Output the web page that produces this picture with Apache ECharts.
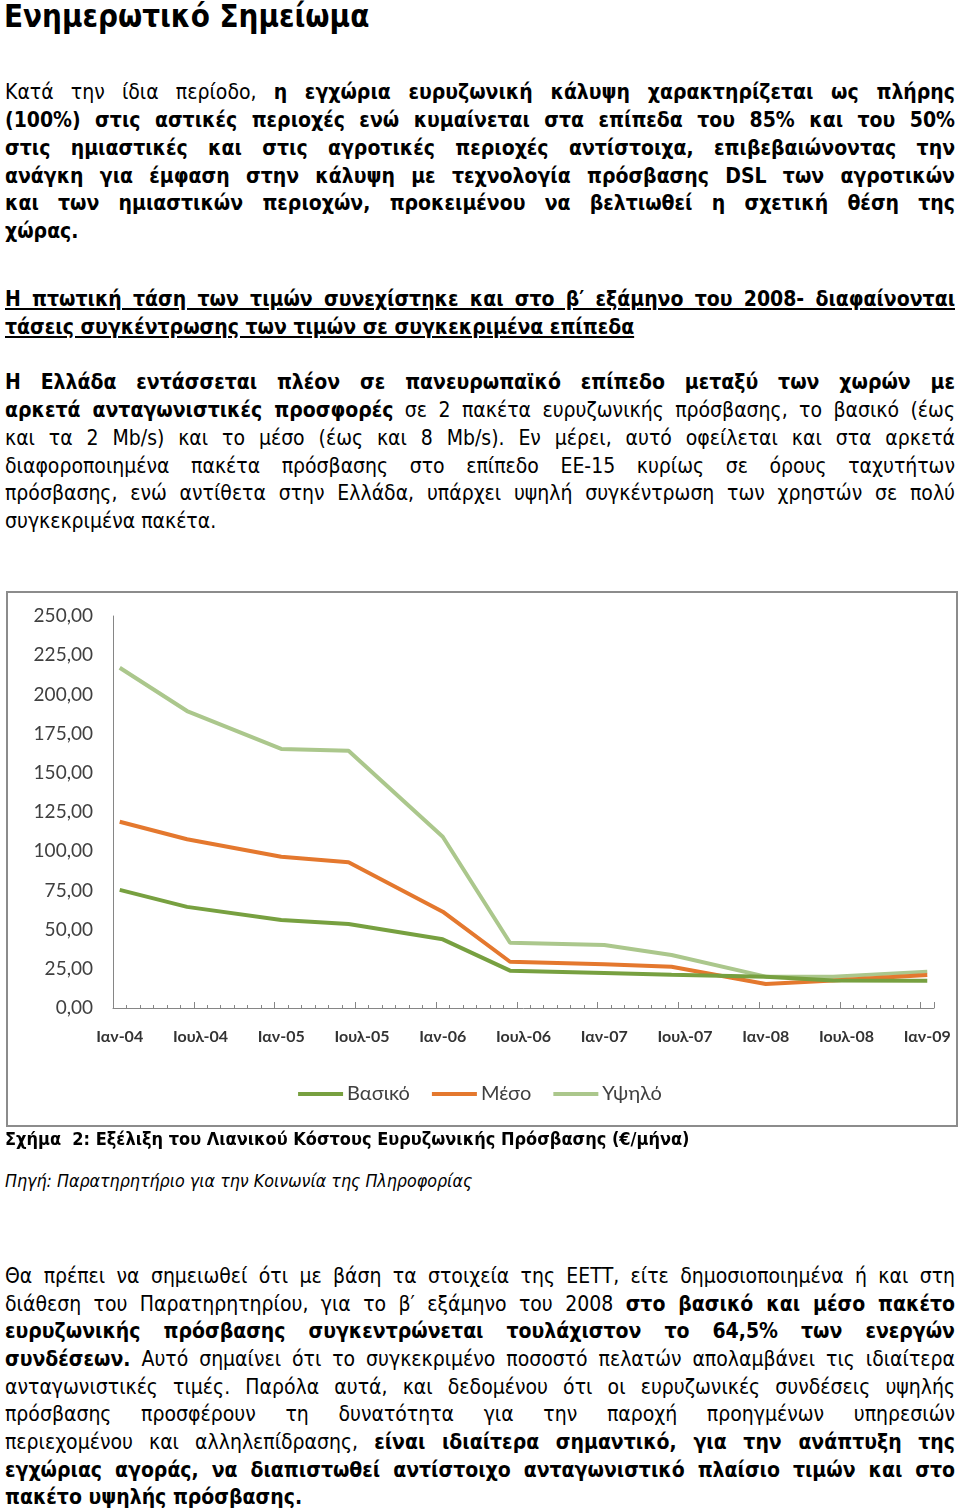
<!DOCTYPE html>
<html>
<head>
<meta charset="utf-8">
<script src="https://cdn.jsdelivr.net/npm/echarts@6/dist/echarts.min.js"></script>
<style>
  html, body { margin:0; padding:0; background:#fff; }
  body { width:960px; height:1510px; position:relative; overflow:hidden;
         font-family:"Liberation Sans Narrow","DejaVu Sans Condensed","Liberation Sans",sans-serif; color:#000; }
  .ln { position:absolute; left:5px; width:950px; height:28px; line-height:28px; font-size:21px;
        white-space:nowrap; text-align:justify; text-align-last:justify; }
  .ln.l { text-align:left; text-align-last:left; }
  b { font-weight:bold; }
  .u { text-decoration:underline; }
  #title { position:absolute; left:4px; top:-3px; font-size:31px; font-weight:bold; line-height:38px; }
  #frame { position:absolute; left:6px; top:591px; width:948px; height:532px; border:2px solid #8c8c8c; }
  #chart { position:absolute; left:0; top:580px; width:960px; height:560px; }
</style>
</head>
<body>
<div id="title">Ενημερωτικό Σημείωμα</div>

<div class="ln" style="top:78px">Κατά την ίδια περίοδο, <b>η εγχώρια ευρυζωνική κάλυψη χαρακτηρίζεται ως πλήρης</b></div>
<div class="ln" style="top:106px"><b>(100%) στις αστικές περιοχές ενώ κυμαίνεται στα επίπεδα του 85% και του 50%</b></div>
<div class="ln" style="top:134px"><b>στις ημιαστικές και στις αγροτικές περιοχές αντίστοιχα, επιβεβαιώνοντας την</b></div>
<div class="ln" style="top:162px"><b>ανάγκη για έμφαση στην κάλυψη με τεχνολογία πρόσβασης DSL των αγροτικών</b></div>
<div class="ln" style="top:189px"><b>και των ημιαστικών περιοχών, προκειμένου να βελτιωθεί η σχετική θέση της</b></div>
<div class="ln l" style="top:217px"><b>χώρας.</b></div>

<div class="ln" style="top:285px"><b class="u">Η πτωτική τάση των τιμών συνεχίστηκε και στο β′ εξάμηνο του 2008- διαφαίνονται</b></div>
<div class="ln l" style="top:313px"><b class="u">τάσεις συγκέντρωσης των τιμών σε συγκεκριμένα επίπεδα</b></div>

<div class="ln" style="top:368px"><b>Η Ελλάδα εντάσσεται πλέον σε πανευρωπαϊκό επίπεδο μεταξύ των χωρών με</b></div>
<div class="ln" style="top:396px"><b>αρκετά ανταγωνιστικές προσφορές</b> σε 2 πακέτα ευρυζωνικής πρόσβασης, το βασικό (έως</div>
<div class="ln" style="top:424px">και τα 2 Mb/s) και το μέσο (έως και 8 Mb/s). Εν μέρει, αυτό οφείλεται και στα αρκετά</div>
<div class="ln" style="top:452px">διαφοροποιημένα πακέτα πρόσβασης στο επίπεδο ΕΕ-15 κυρίως σε όρους ταχυτήτων</div>
<div class="ln" style="top:479px">πρόσβασης, ενώ αντίθετα στην Ελλάδα, υπάρχει υψηλή συγκέντρωση των χρηστών σε πολύ</div>
<div class="ln l" style="top:507px">συγκεκριμένα πακέτα.</div>

<div id="frame"></div>
<div id="chart"></div>

<div class="ln l" style="top:1125px; font-size:18px"><b>Σχήμα &nbsp;2: Εξέλιξη του Λιανικού Κόστους Ευρυζωνικής Πρόσβασης (€/μήνα)</b></div>
<div class="ln l" style="top:1167px; font-size:17.7px"><i>Πηγή: Παρατηρητήριο για την Κοινωνία της Πληροφορίας</i></div>

<div class="ln" style="top:1262px">Θα πρέπει να σημειωθεί ότι με βάση τα στοιχεία της ΕΕΤΤ, είτε δημοσιοποιημένα ή και στη</div>
<div class="ln" style="top:1290px">διάθεση του Παρατηρητηρίου, για το β′ εξάμηνο του 2008 <b>στο βασικό και μέσο πακέτο</b></div>
<div class="ln" style="top:1317px"><b>ευρυζωνικής πρόσβασης συγκεντρώνεται τουλάχιστον το 64,5% των ενεργών</b></div>
<div class="ln" style="top:1345px"><b>συνδέσεων.</b> Αυτό σημαίνει ότι το συγκεκριμένο ποσοστό πελατών απολαμβάνει τις ιδιαίτερα</div>
<div class="ln" style="top:1373px">ανταγωνιστικές τιμές. Παρόλα αυτά, και δεδομένου ότι οι ευρυζωνικές συνδέσεις υψηλής</div>
<div class="ln" style="top:1400px">πρόσβασης προσφέρουν τη δυνατότητα για την παροχή προηγμένων υπηρεσιών</div>
<div class="ln" style="top:1428px">περιεχομένου και αλληλεπίδρασης, <b>είναι ιδιαίτερα σημαντικό, για την ανάπτυξη της</b></div>
<div class="ln" style="top:1456px"><b>εγχώριας αγοράς, να διαπιστωθεί αντίστοιχο ανταγωνιστικό πλαίσιο τιμών και στο</b></div>
<div class="ln l" style="top:1483px"><b>πακέτο υψηλής πρόσβασης.</b></div>

<script>
// ---- data ----
const monthNames = ['Ιαν','Φεβ','Μαρ','Απρ','Μαϊ','Ιουν','Ιουλ','Αυγ','Σεπ','Οκτ','Νοε','Δεκ'];
const years = ['04','05','06','07','08','09'];
const pointDates = ['Ιαν-04','Ιουν-04','Ιαν-05','Ιουν-05','Ιαν-06','Ιουν-06','Ιαν-07','Ιουν-07','Ιαν-08','Ιουν-08','Ιαν-09'];
const basicValues  = [75.3, 64.5, 56.1, 53.6, 43.8, 23.8, 22.3, 21.2, 20.0, 17.6, 17.3];
const mediumValues = [118.8, 107.6, 96.5, 93.0, 61.4, 29.5, 27.9, 26.3, 15.3, 17.6, 21.0];
const highValues   = [217.0, 189.4, 165.2, 164.0, 109.2, 41.6, 40.2, 33.8, 20.0, 20.0, 23.2];
const seriesNames = ['Βασικό','Μέσο','Υψηλό'];
const seriesColors = ['#77A040','#E4782E','#ABC78C'];

// monthly categories Ιαν-04 .. Ιαν-09
const categories = [];
years.forEach(function (y) {
  monthNames.forEach(function (m) {
    if (y === '09' && m !== 'Ιαν') return;
    categories.push(m + '-' + y);
  });
});

function pairs(vals) { return pointDates.map(function (d, i) { return [d, vals[i]]; }); }

const chart = echarts.init(document.getElementById('chart'));
const axisColor = '#868686';
const textColor = '#404040';
chart.setOption({
  animation: false,
  grid: { left: 113, top: 36, width: 821, height: 392, containLabel: false },
  legend: {
    data: seriesNames.map(function (n) { return { name: n, icon: 'rect' }; }),
    left: 'center', top: 499,
    itemWidth: 45, itemHeight: 4, itemGap: 22,
    textStyle: { fontFamily: 'Lato', fontSize: 20, color: textColor, padding: [0, 0, 0, -1] }
  },
  xAxis: [{
    type: 'category', data: categories, boundaryGap: true,
    axisLine: { lineStyle: { color: axisColor, width: 1 } },
    axisTick: { show: true, interval: 0, inside: true, length: 3, lineStyle: { color: axisColor } },
    axisLabel: { interval: 5, margin: 21, fontFamily: 'Lato', fontWeight: 'bold', fontSize: 16, color: '#333333' },
    splitLine: { show: false }
  }, {
    type: 'category', data: categories, boundaryGap: true, position: 'bottom',
    axisLine: { show: false },
    axisTick: { show: true, interval: 5, inside: true, length: 6, lineStyle: { color: axisColor } },
    axisLabel: { show: false },
    splitLine: { show: false }
  }],
  yAxis: {
    type: 'value', min: 0, max: 250, interval: 25,
    axisLine: { show: true, lineStyle: { color: axisColor, width: 1 } },
    axisTick: { show: false },
    splitLine: { show: false },
    axisLabel: { margin: 20, fontFamily: 'Lato', fontSize: 19, color: textColor,
      formatter: function (v) { return v.toFixed(2).replace('.', ','); } }
  },
  series: [
    { name: seriesNames[0], type: 'line', data: pairs(basicValues), symbol: 'none', z: 4,
      lineStyle: { width: 4, color: seriesColors[0] }, itemStyle: { color: seriesColors[0] } },
    { name: seriesNames[1], type: 'line', data: pairs(mediumValues), symbol: 'none', z: 3,
      lineStyle: { width: 4, color: seriesColors[1] }, itemStyle: { color: seriesColors[1] } },
    { name: seriesNames[2], type: 'line', data: pairs(highValues), symbol: 'none', z: 2,
      lineStyle: { width: 4, color: seriesColors[2] }, itemStyle: { color: seriesColors[2] } }
  ]
});
</script>
</body>
</html>
